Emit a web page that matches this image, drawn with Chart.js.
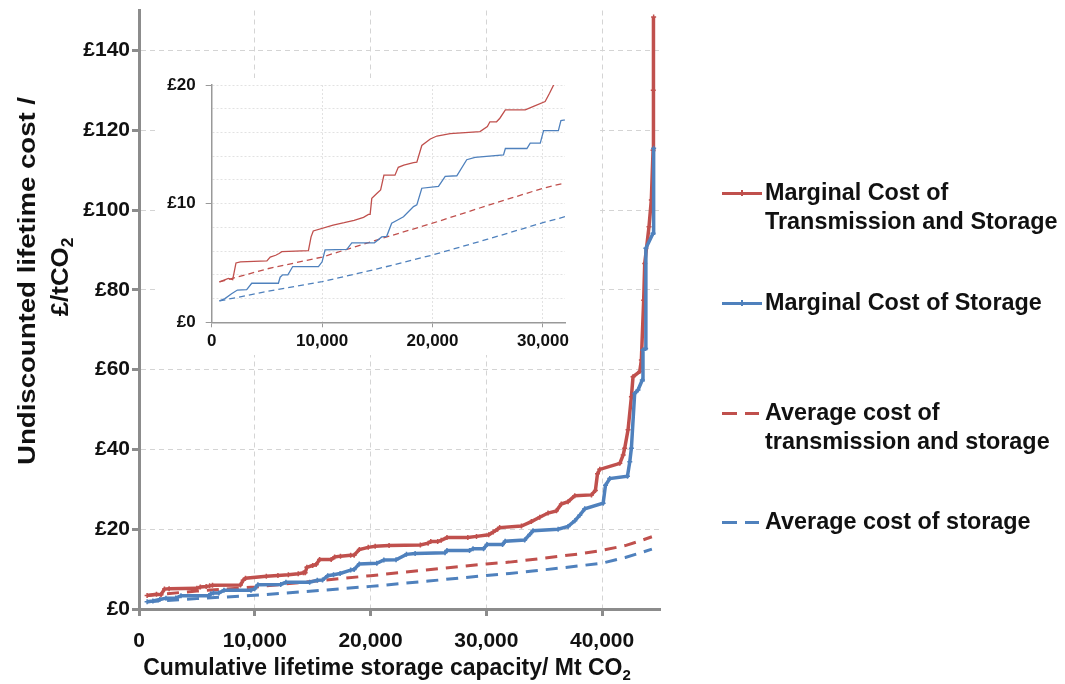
<!DOCTYPE html>
<html>
<head>
<meta charset="utf-8">
<script src="https://cdn.jsdelivr.net/npm/chart.js@4/dist/chart.umd.min.js"></script>
<style>
  html, body { margin: 0; padding: 0; background: #fff; }
  #wrap { position: relative; width: 1065px; height: 684px; overflow: hidden;
          font-family: "Liberation Sans", Arial, sans-serif; }
  #main { position: absolute; left: 0; top: 0; }
  #insetBox { position: absolute; left: 158px; top: 78px; width: 440px; height: 277px; background: #fff; }
  #inset { position: absolute; left: 0; top: 0; }
  .lg { position: absolute; left: 765px; font-weight: bold; font-size: 23.4px; line-height: 29px; color: #111; white-space: nowrap; }
  .smp { position: absolute; height: 3px; }
  .tick { position: absolute; width: 2px; height: 6px; }
</style>
</head>
<body>
<div id="wrap">
  <canvas id="main" width="1065" height="684"></canvas>
  <div id="insetBox"><canvas id="inset" width="440" height="277"></canvas></div>

  <div class="smp" style="left:722px;top:192px;width:40px;background:#C0504D"></div>
  <div class="tick" style="left:741px;top:190px;background:#C0504D"></div>
  <div class="lg" style="top:178px">Marginal Cost of<br>Transmission and Storage</div>

  <div class="smp" style="left:722px;top:302px;width:40px;background:#4F81BD"></div>
  <div class="tick" style="left:741px;top:300px;background:#4F81BD"></div>
  <div class="lg" style="top:288px">Marginal Cost of Storage</div>

  <div class="smp" style="left:722px;top:412px;width:15px;background:#C0504D"></div>
  <div class="smp" style="left:745px;top:412px;width:14px;background:#C0504D"></div>
  <div class="lg" style="top:398px">Average cost of<br>transmission and storage</div>

  <div class="smp" style="left:722px;top:521px;width:15px;background:#4F81BD"></div>
  <div class="smp" style="left:745px;top:521px;width:14px;background:#4F81BD"></div>
  <div class="lg" style="top:507px">Average cost of storage</div>
</div>

<script>
// Cumulative lifetime storage capacity (Mt CO2) and undiscounted lifetime cost (£/tCO2)

// Marginal cost of transmission and storage
const capMarginalTS = [700, 1510, 1900, 2200, 2600, 5000, 5300, 5800, 6100, 6350, 8760, 9000, 9200,
  11000, 12000, 12900, 13750, 14200, 14350, 14500, 15000, 15300, 15600, 16600, 16900, 17400, 18280,
  18580, 19030, 19800, 20400, 21600, 24300, 24970, 25200, 25800, 26100, 26600, 28400, 29150, 30200,
  30600, 30970, 31150, 33030, 33890, 34610, 35330, 36050, 36480, 37060, 37640, 39080, 39420, 39600,
  39800, 41530, 41820, 41950, 42240, 42530, 42670, 43250, 43390, 43590, 43680, 44050, 44250, 44400,
  44420, 44450];
const costMarginalTS = [3.4, 3.7, 3.6, 5.0, 5.1, 5.17, 5.5, 5.65, 5.8, 5.95, 6.04, 7.2, 7.7,
  8.2, 8.4, 8.6, 8.85, 9.1, 9.1, 10.45, 10.9, 11.15, 12.4, 12.4, 13.06, 13.25, 13.45,
  13.5, 14.9, 15.45, 15.7, 15.9, 16.07, 16.5, 16.9, 16.9, 17.2, 17.9, 17.9, 18.2, 18.6,
  19.3, 20.0, 20.4, 20.8, 21.9, 23.0, 24.05, 24.6, 26.3, 26.9, 28.4, 28.6, 29.7, 33.9,
  35.0, 36.5, 38.6, 40.3, 44.9, 53.2, 58.2, 59.5, 62.4, 77.4, 86.6, 95.8, 102.5, 115,
  130, 148.4];

// Marginal cost of storage
const capMarginalS = [700, 1200, 1800, 2330, 3170, 3625, 6040, 6200, 6430, 6900, 7340, 9670, 10000,
  10270, 12240, 12690, 14740, 15400, 15850, 16300, 16800, 17370, 18280, 18580, 19030, 20540, 21150,
  22200, 23100, 23850, 26430, 26600, 28550, 28850, 29760, 30060, 31400, 31630, 33310, 33750, 34030,
  36200, 37060, 37640, 38070, 38500, 40090, 40290, 40660, 42190, 42390, 42530, 42810, 43100, 43470,
  43530, 43760, 43780, 44400, 44450];
const costMarginalS = [1.8, 2.0, 2.4, 2.72, 2.75, 3.29, 3.29, 3.8, 4.0, 4.0, 4.7, 4.7, 5.1,
  6.1, 6.15, 6.7, 6.7, 7.2, 7.25, 8.35, 8.6, 8.9, 9.75, 9.9, 11.3, 11.45, 12.3,
  12.35, 13.7, 13.9, 14.1, 14.65, 14.65, 15.1, 15.1, 16.15, 16.15, 17.0, 17.3, 18.7, 19.6,
  20.0, 20.7, 22.1, 23.5, 25.1, 26.5, 31.0, 32.7, 33.3, 36.9, 40.3, 54.0, 54.9, 57.4,
  64.9, 65.3, 90.4, 94.2, 115.5];

// Average cost of transmission and storage
const capAverageTS = [700, 5000, 10000, 15000, 20000, 25000, 30000, 32000, 34000, 38000, 40000, 42000, 43000, 44300];
const costAverageTS = [3.4, 4.5, 5.5, 6.95, 8.35, 9.85, 11.3, 11.75, 12.4, 13.8, 14.7, 15.9, 16.8, 18.1];

// Average cost of storage
const capAverageS = [700, 5000, 10000, 15000, 20000, 25000, 30000, 32000, 34000, 38000, 40000, 42000, 43000, 44300];
const costAverageS = [1.8, 2.6, 3.43, 4.5, 5.67, 7.0, 8.4, 8.9, 9.5, 10.8, 11.5, 12.9, 13.8, 15.0];

// Axis ticks
const mainCostTicks = [0, 20, 40, 60, 80, 100, 120, 140];
const mainCapTicks = [0, 10000, 20000, 30000, 40000];
const insetCostTicks = [0, 2, 4, 6, 8, 10, 12, 14, 16, 18, 20];
const insetCostLabels = [0, 10, 20];
const insetCapTicks = [0, 10000, 20000, 30000];

const RED = '#C0504D';
const BLUE = '#4F81BD';
const FONT = '"Liberation Sans", Arial, sans-serif';

function pts(xs, ys) { return xs.map((x, i) => ({ x: x, y: ys[i] })); }
const fmtCap = v => v.toLocaleString('en-US');

// Text with a subscript run, centred at (cx, cy)
function drawRuns(ctx, runs, cx, cy, size) {
  const fonts = runs.map(r => 'bold ' + (r.sub ? Math.round(size * 0.65) : size) + 'px ' + FONT);
  let w = 0;
  runs.forEach((r, i) => { ctx.font = fonts[i]; w += ctx.measureText(r.t).width; });
  let x = cx - w / 2;
  ctx.textBaseline = 'middle';
  ctx.textAlign = 'left';
  runs.forEach((r, i) => {
    ctx.font = fonts[i];
    ctx.fillText(r.t, x, cy + (r.sub ? size * 0.3 : 0));
    x += ctx.measureText(r.t).width;
  });
}

// Rotated, slightly stretched title line for the cost axis
function drawVertical(ctx, runs, cx, cy, size, stretch) {
  ctx.save();
  ctx.translate(cx, cy);
  ctx.rotate(-Math.PI / 2);
  ctx.scale(stretch, 1);
  drawRuns(ctx, runs, 0, 0, size);
  ctx.restore();
}

const axisTitles = {
  id: 'axisTitles',
  afterDraw(chart) {
    const ctx = chart.ctx;
    ctx.save();
    ctx.fillStyle = '#111';
    drawRuns(ctx, [{ t: 'Cumulative lifetime storage capacity/ Mt CO' }, { t: '2', sub: true }], 387, 669, 23);
    drawVertical(ctx, [{ t: 'Undiscounted lifetime cost /' }], 28, 281, 24, 1.15);
    drawVertical(ctx, [{ t: '£/tCO' }, { t: '2', sub: true }], 61, 277, 24, 1.08);
    ctx.restore();
  }
};

// Keep the plot area exactly where the layout padding puts it
function noLabelPadding(s) {
  s.paddingTop = 0; s.paddingBottom = 0; s.paddingLeft = 0; s.paddingRight = 0;
}

// Main chart
new Chart(document.getElementById('main'), {
  type: 'line',
  data: {
    datasets: [
      { label: 'Marginal Cost of Transmission and Storage', data: pts(capMarginalTS, costMarginalTS),
        borderColor: RED, backgroundColor: RED, borderWidth: 3.5, pointStyle: 'cross', pointRadius: 2.5,
        pointBorderWidth: 1.5, order: 2 },
      { label: 'Marginal Cost of Storage', data: pts(capMarginalS, costMarginalS),
        borderColor: BLUE, backgroundColor: BLUE, borderWidth: 3.5, pointStyle: 'cross', pointRadius: 2.5,
        pointBorderWidth: 1.5, order: 1 },
      { label: 'Average cost of transmission and storage', data: pts(capAverageTS, costAverageTS),
        borderColor: RED, borderWidth: 3, borderDash: [12, 8], pointRadius: 0, order: 3 },
      { label: 'Average cost of storage', data: pts(capAverageS, costAverageS),
        borderColor: BLUE, borderWidth: 3, borderDash: [12, 8], pointRadius: 0, order: 4 }
    ]
  },
  options: {
    responsive: false,
    animation: false,
    events: [],
    layout: { padding: { left: 0, top: 10.5, right: 405, bottom: 0 } },
    plugins: { legend: { display: false }, tooltip: { enabled: false } },
    elements: { line: { tension: 0, fill: false } },
    scales: {
      x: {
        type: 'linear', min: 0, max: 45000,
        afterBuildTicks: s => { s.ticks = mainCapTicks.map(v => ({ value: v })); },
        afterFit: s => { s.height = 75; noLabelPadding(s); },
        ticks: { callback: v => fmtCap(v), color: '#111', font: { family: FONT, size: 21, weight: 'bold' }, padding: 13, maxRotation: 0 },
        grid: { color: '#d4d4d4', lineWidth: 1, tickLength: 7, tickColor: '#8c8c8c', tickWidth: 3 },
        border: { color: '#8c8c8c', width: 3, dash: [5, 4] }
      },
      y: {
        type: 'linear', min: 0, max: 150,
        afterBuildTicks: s => { s.ticks = mainCostTicks.map(v => ({ value: v })); },
        afterFit: s => { s.width = 139; noLabelPadding(s); },
        ticks: { callback: v => '£' + v, color: '#111', font: { family: FONT, size: 21, weight: 'bold' }, padding: 2 },
        grid: { color: '#d4d4d4', lineWidth: 1, tickLength: 7, tickColor: '#8c8c8c', tickWidth: 3 },
        border: { color: '#8c8c8c', width: 3, dash: [5, 4] }
      }
    }
  },
  plugins: [axisTitles]
});

// Inset: low-cost region
new Chart(document.getElementById('inset'), {
  type: 'line',
  data: {
    datasets: [
      { data: pts(capMarginalTS, costMarginalTS), borderColor: RED, borderWidth: 1.3, pointRadius: 0 },
      { data: pts(capMarginalS, costMarginalS), borderColor: BLUE, borderWidth: 1.3, pointRadius: 0 },
      { data: pts(capAverageTS, costAverageTS), borderColor: RED, borderWidth: 1.3, borderDash: [6, 4], pointRadius: 0 },
      { data: pts(capAverageS, costAverageS), borderColor: BLUE, borderWidth: 1.3, borderDash: [6, 4], pointRadius: 0 }
    ]
  },
  options: {
    responsive: false,
    animation: false,
    events: [],
    layout: { padding: { left: 0, top: 7, right: 33, bottom: 0 } },
    plugins: { legend: { display: false }, tooltip: { enabled: false } },
    elements: { line: { tension: 0, fill: false } },
    scales: {
      x: {
        type: 'linear', min: 0, max: 32000,
        afterBuildTicks: s => { s.ticks = insetCapTicks.map(v => ({ value: v })); },
        afterFit: s => { s.height = 32.7; noLabelPadding(s); },
        ticks: { callback: v => fmtCap(v), color: '#111', font: { family: FONT, size: 17, weight: 'bold' }, padding: 4, maxRotation: 0 },
        grid: { color: '#e2e2e2', lineWidth: 1, tickLength: 5, tickColor: '#999', tickWidth: 1 },
        border: { color: '#999', width: 1.5, dash: [2, 2] }
      },
      y: {
        type: 'linear', min: 0, max: 20,
        afterBuildTicks: s => { s.ticks = insetCostTicks.map(v => ({ value: v })); },
        afterFit: s => { s.width = 53.7; noLabelPadding(s); },
        ticks: { callback: v => insetCostLabels.includes(v) ? '£' + v : '', color: '#111', font: { family: FONT, size: 17, weight: 'bold' }, padding: 10 },
        grid: { color: '#e2e2e2', lineWidth: 1, tickLength: 6,
                tickColor: c => insetCostLabels.includes(c.tick && c.tick.value) ? '#999' : 'rgba(0,0,0,0)', tickWidth: 1 },
        border: { color: '#999', width: 1.5, dash: [2, 2] }
      }
    }
  }
});
</script>
</body>
</html>
